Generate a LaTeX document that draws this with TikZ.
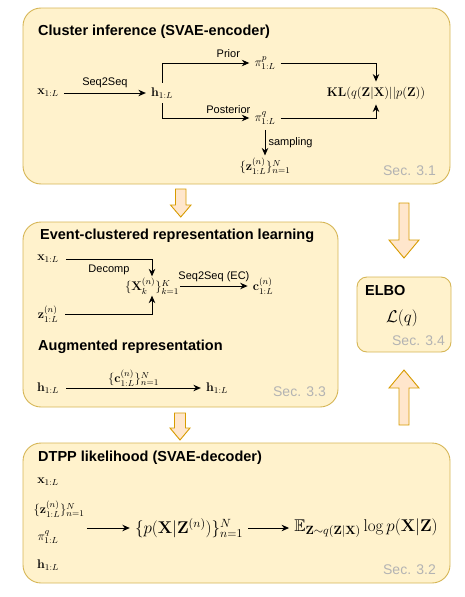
\RequirePackage{fix-cm}
\documentclass[tikz,border=0pt]{standalone}
\usepackage{amsmath,amssymb}
\usepackage[no-math]{fontspec}
\setmainfont{Liberation Sans}
\usetikzlibrary{arrows.meta, positioning, fit}
\definecolor{panelfill}{HTML}{FFF2CC}
\definecolor{panelline}{HTML}{D6B656}
\definecolor{arrowfill}{HTML}{FFE6CC}
\definecolor{arrowline}{HTML}{D79B00}
\definecolor{secgray}{HTML}{B3B3B3}
\tikzset{
    panel/.style={rectangle, draw=panelline, fill=panelfill, line width=0.9pt, rounded corners=18pt},
    heading/.style={font=\fontsize{14.5}{17}\selectfont\bfseries, anchor=west, inner sep=0pt},
    seclabel/.style={font=\fontsize{14}{16}\selectfont, text=secgray, anchor=east, inner sep=0pt},
    lbl/.style={font=\fontsize{11}{13}\selectfont, inner sep=2pt},
    mathnode/.style={font=\fontsize{12.5}{15}\selectfont, inner sep=5pt},
    bigmath/.style={font=\fontsize{17}{20}\selectfont, inner sep=5pt},
    flow/.style={line width=1pt, -{Stealth[length=7.5pt,width=6.5pt]}},
    blockarrow/.style={draw=arrowline, fill=arrowfill, line width=0.9pt}
}
\begin{document}
\begin{tikzpicture}[x=1pt, y=-1pt]
        \useasboundingbox (0,0) rectangle (465,597);
        % Panels
        \node (encpanel) [panel, minimum width=427pt, minimum height=176pt] at (236.5,96) {};
        \node (ecpanel) [panel, minimum width=315pt, minimum height=185pt] at (180.5,314.5) {};
        \node (elbopanel) [panel, rounded corners=10pt, minimum width=94pt, minimum height=75pt] at (404,314.5) {};
        \node (decpanel) [panel, minimum width=427pt, minimum height=140pt] at (236.5,513) {};

        % Block arrows
        \draw [blockarrow] (175.5,189) -- (186,189) -- (186,205) -- (191,205) -- (180.75,217) -- (170.5,205) -- (175.5,205) -- cycle;
        \draw [blockarrow] (174.5,413) -- (185.5,413) -- (185.5,428) -- (190,428) -- (180,440) -- (170,428) -- (174.5,428) -- cycle;
        \draw [blockarrow] (399,203) -- (409,203) -- (409,240) -- (419,240) -- (404,258) -- (389,240) -- (399,240) -- cycle;
        \draw [blockarrow] (399,425) -- (409,425) -- (409,388) -- (419,388) -- (404,370) -- (389,388) -- (399,388) -- cycle;

        % Cluster inference
        \node (enctitle) [heading] at (38,32) {Cluster inference (SVAE-encoder)};
        \node (xin) [mathnode] at (48,93) {$\mathbf{x}_{1:L}$};
        \node (hin) [mathnode] at (162,93) {$\mathbf{h}_{1:L}$};
        \node (pip) [mathnode] at (265,63) {$\pi^{p}_{1:L}$};
        \node (piq) [mathnode] at (265,118) {$\pi^{q}_{1:L}$};
        \node (kl) [mathnode] at (376,93) {$\mathbf{KL}(q(\mathbf{Z}|\mathbf{X})||p(\mathbf{Z}))$};
        \node (zset) [mathnode, inner sep=2pt] at (265,166) {$\{\mathbf{z}^{(n)}_{1:L}\}^{N}_{n=1}$};
        \node (sec31) [seclabel] at (436,171) {Sec. 3.1};

        \draw [flow] (xin) -- node[lbl, above=3pt] {Seq2Seq} (hin);
        \draw [flow] (hin.north) |- node[lbl, above=3pt, pos=0.88] {Prior} (pip.west);
        \draw [flow] (hin.south) |- node[lbl, above=2pt, pos=0.88] {Posterior} (piq.west);
        \draw [flow] (pip.east) -| (kl.north);
        \draw [flow] (piq.east) -| (kl.south);
        \draw [flow] (piq.south) -- node[lbl, right=1pt] {sampling} (zset.north);

        % Event-clustered representation learning
        \node (ectitle) [heading] at (40,236) {Event-clustered representation learning};
        \node (xec) [mathnode, inner sep=7pt] at (48,259) {$\mathbf{x}_{1:L}$};
        \node (zec) [mathnode, inner sep=7pt] at (48,314) {$\mathbf{z}^{(n)}_{1:L}$};
        \node (xk) [mathnode, inner sep=1pt] at (152,286) {$\{\mathbf{X}^{(n)}_{k}\}^{K}_{k=1}$};
        \node (cec) [mathnode] at (263,286) {$\mathbf{c}^{(n)}_{1:L}$};
        \draw [flow] (xec.east) -| node[lbl, below=3pt, pos=0.25] {Decomp} (xk.north);
        \draw [flow] (zec.east) -| (xk.south);
        \draw [flow] (xk.east) -- node[lbl, above=2pt] {Seq2Seq (EC)} (cec.west);

        \node (augtitle) [heading] at (38,347) {Augmented representation};
        \node (haug) [mathnode, inner sep=7pt] at (48,388) {$\mathbf{h}_{1:L}$};
        \node (hout) [mathnode] at (217,388) {$\mathbf{h}_{1:L}$};
        \draw [flow] (haug) -- node[mathnode, above, inner sep=1pt] {$\{\mathbf{c}^{(n)}_{1:L}\}^{N}_{n=1}$} (hout);
        \node (sec33) [seclabel] at (326,392) {Sec. 3.3};

        % ELBO
        \node (elbotitle) [heading] at (365,291) {ELBO};
        \node (lq) [bigmath] at (402,318) {$\mathcal{L}(q)$};
        \node (sec34) [seclabel] at (445,341) {Sec. 3.4};

        % DTPP likelihood
        \node (dectitle) [heading] at (38,458) {DTPP likelihood (SVAE-decoder)};
        \node (xdec) [mathnode, inner sep=1pt] at (48,482) {$\mathbf{x}_{1:L}$};
        \node (zdec) [mathnode, inner sep=1pt] at (59,509) {$\{\mathbf{z}^{(n)}_{1:L}\}^{N}_{n=1}$};
        \node (pidec) [mathnode, inner sep=1pt] at (48,537) {$\pi^{q}_{1:L}$};
        \node (hdec) [mathnode, inner sep=1pt] at (48,565) {$\mathbf{h}_{1:L}$};
        \node (inputs) [fit=(xdec)(zdec)(pidec)(hdec), inner sep=1pt] {};
        \node (pz) [bigmath] at (189,528) {$\{p(\mathbf{X}|\mathbf{Z}^{(n)})\}^{N}_{n=1}$};
        \node (expect) [bigmath] at (366,528) {$\mathbb{E}_{\mathbf{Z}\sim q(\mathbf{Z}|\mathbf{X})}\log p(\mathbf{X}|\mathbf{Z})$};
        \draw [flow] (inputs.east |- pz.west) -- (pz.west);
        \draw [flow] (pz.east) -- (pz.east -| expect.west);
        \node (sec32) [seclabel] at (436,570) {Sec. 3.2};
\end{tikzpicture}
\end{document}
